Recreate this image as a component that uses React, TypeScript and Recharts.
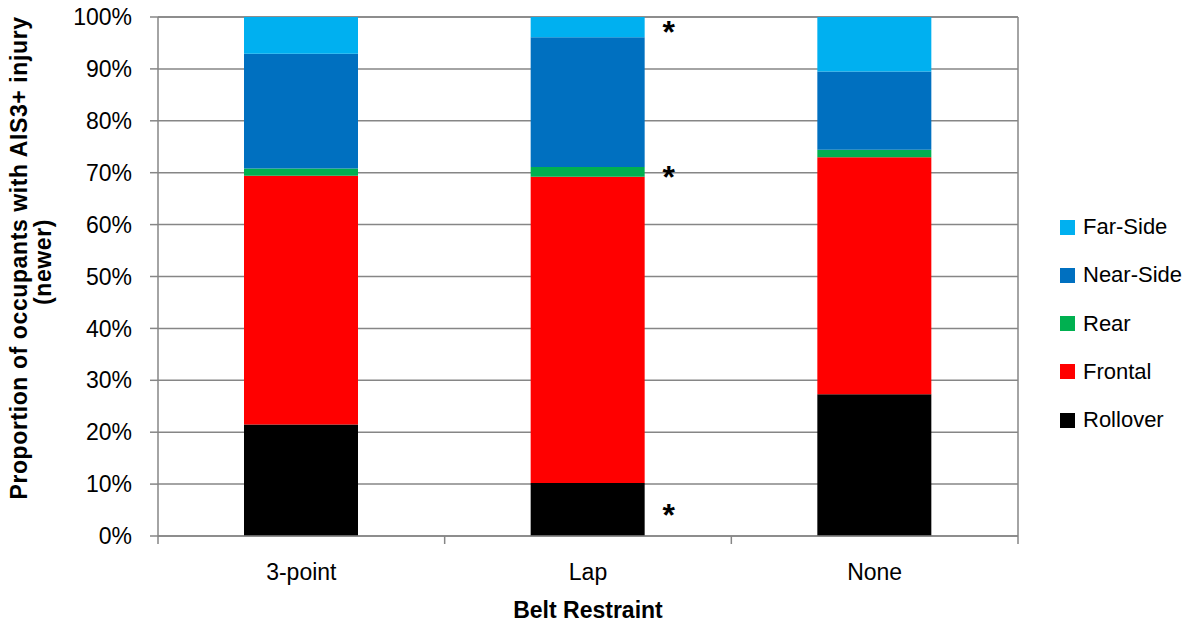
import { BarChart, Bar, XAxis, YAxis, CartesianGrid, LabelList } from 'recharts';

const categories = ['3-point', 'Lap', 'None'];
const rollover = [21.5, 10.2, 27.3];
const frontal = [47.9, 59.0, 45.7];
const rear = [1.4, 1.9, 1.4];
const nearSide = [22.1, 25.0, 15.1];
const farSide = [7.1, 3.9, 10.5];
// significance markers drawn beside the Lap bar
const rolloverMark = ['', '*', ''];
const rearMark = ['', '*', ''];
const farSideMark = ['', '*', ''];
const yTicks = [0, 10, 20, 30, 40, 50, 60, 70, 80, 90, 100];

const series = [
  { key: 'rollover', name: 'Rollover', color: '#000000' },
  { key: 'frontal', name: 'Frontal', color: '#FF0000' },
  { key: 'rear', name: 'Rear', color: '#00B050' },
  { key: 'nearSide', name: 'Near-Side', color: '#0070C0' },
  { key: 'farSide', name: 'Far-Side', color: '#00B0F0' },
];

const data = categories.map((name, i) => ({
  name,
  rollover: rollover[i],
  frontal: frontal[i],
  rear: rear[i],
  nearSide: nearSide[i],
  farSide: farSide[i],
  rolloverMark: rolloverMark[i],
  rearMark: rearMark[i],
  farSideMark: farSideMark[i],
}));

const FONT = '"Liberation Sans", Arial, sans-serif';
const GRID = '#868686';
const W = 1198;
const H = 625;
const M = { top: 17, right: 180, bottom: 9, left: 8 };
const Y_W = 150;
const HALF_BAND = (W - M.left - M.right - Y_W) / categories.length / 2;

const XTick = (props: any) => {
  const { x, y, payload, index } = props;
  return (
    <g>
      {index === 0 && <line x1={x - HALF_BAND} y1={y} x2={x - HALF_BAND} y2={y + 8} stroke={GRID} strokeWidth={1.5} />}
      <line x1={x + HALF_BAND} y1={y} x2={x + HALF_BAND} y2={y + 8} stroke={GRID} strokeWidth={1.5} />
      <text x={x} y={y + 36} textAnchor="middle" dominantBaseline="central" fontSize={23} fill="#000" fontFamily={FONT}>
        {payload.value}
      </text>
    </g>
  );
};

const Star = (props: any) => {
  const { x, y, width, height, value } = props;
  if (!value) return null;
  return (
    <text x={x + width + 24} y={y + height / 2 + 16} textAnchor="middle" fontSize={32} fontWeight="bold" fill="#000" fontFamily={FONT}>
      {value}
    </text>
  );
};

export default function App() {
  return (
    <div style={{ position: 'relative', width: W, height: H, marginTop: -8, marginLeft: -8 }}>
      <BarChart width={W} height={H} data={data} margin={M} style={{ fontFamily: FONT }}>
        <CartesianGrid
          stroke={GRID}
          strokeWidth={1.5}
          horizontal
          vertical
          verticalCoordinatesGenerator={(p: any) => [p.offset.left + p.offset.width]}
        />
        <XAxis
          dataKey="name"
          tickLine={false}
          tickSize={0}
          tickMargin={0}
          height={80}
          axisLine={{ stroke: GRID, strokeWidth: 1.5 }}
          tick={<XTick />}
          interval={0}
          label={{
            content: (p: any) => (
              <text
                x={p.viewBox.x + p.viewBox.width / 2}
                y={610}
                textAnchor="middle"
                dominantBaseline="central"
                fontSize={23}
                fontWeight="bold"
                fill="#000"
                fontFamily={FONT}
              >
                Belt Restraint
              </text>
            ),
          }}
        />
        <YAxis
          width={Y_W}
          domain={[0, 100]}
          ticks={yTicks}
          interval={0}
          tickFormatter={(v: number) => `${v}%`}
          tickSize={8}
          tickMargin={18}
          tick={{ fill: '#000', fontSize: 23, fontFamily: FONT }}
          tickLine={{ stroke: GRID, strokeWidth: 1.5 }}
          axisLine={{ stroke: GRID, strokeWidth: 1.5 }}
          label={{
            content: () => (
              <g fontFamily={FONT} fontSize={23} fontWeight="bold" fill="#000" letterSpacing={0.6}>
                <text transform="translate(19,258) rotate(-90)" textAnchor="middle" dominantBaseline="central">
                  Proportion of occupants with AIS3+ injury
                </text>
                <text transform="translate(43,262) rotate(-90)" textAnchor="middle" dominantBaseline="central">
                  (newer)
                </text>
              </g>
            ),
          }}
        />
        {series.map((s) => (
          <Bar key={s.key} dataKey={s.key} name={s.name} stackId="a" fill={s.color} barSize={114} isAnimationActive={false}>
            {s.key === 'rollover' && <LabelList dataKey="rolloverMark" content={<Star />} />}
            {s.key === 'rear' && <LabelList dataKey="rearMark" content={<Star />} />}
            {s.key === 'farSide' && <LabelList dataKey="farSideMark" content={<Star />} />}
          </Bar>
        ))}
      </BarChart>
      <div style={{ position: 'absolute', left: 1060, top: 203, fontFamily: FONT, fontSize: 22, color: '#000' }}>
        {[...series].reverse().map((s) => (
          <div key={s.key} style={{ height: 48.25, display: 'flex', alignItems: 'center', whiteSpace: 'nowrap' }}>
            <span style={{ width: 15, height: 15, background: s.color, marginRight: 8, display: 'inline-block' }} />
            <span>{s.name}</span>
          </div>
        ))}
      </div>
    </div>
  );
}
